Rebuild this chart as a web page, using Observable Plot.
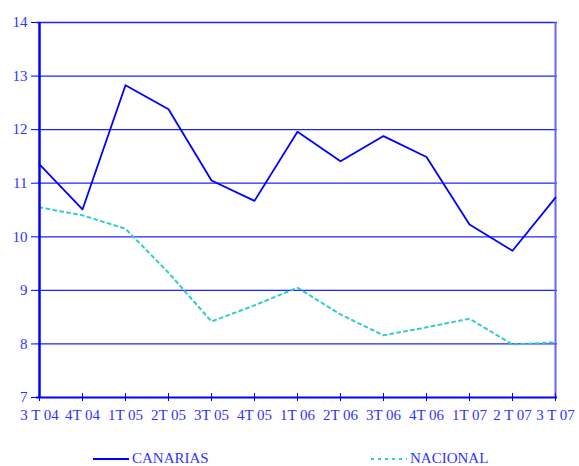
<!DOCTYPE html>
<html><head><meta charset="utf-8">
<script src="https://cdn.jsdelivr.net/npm/d3@7"></script>
<script src="https://cdn.jsdelivr.net/npm/@observablehq/plot@0.6"></script>
<style>
body{margin:0;background:#fff;}
#wrap{position:relative;width:579px;height:466px;font-family:"Liberation Serif","DejaVu Serif",serif;}
#legend{position:absolute;left:0;top:436px;width:579px;height:30px;}
</style></head>
<body><div id="wrap"><div id="chart"></div><svg id="legend" width="579" height="30"></svg></div>
<script>
const periods = ["3 T 04","4T 04","1T 05","2T 05","3T 05","4T 05","1T 06","2T 06","3T 06","4T 06","1T 07","2 T 07","3 T 07"];
const canarias = [11.35,10.51,12.83,12.38,11.05,10.67,11.96,11.41,11.88,11.49,10.23,9.74,10.73];
const nacional = [10.55,10.40,10.15,9.33,8.42,8.72,9.05,8.55,8.16,8.31,8.47,7.99,8.03];
const yTicks = [7,8,9,10,11,12,13,14];
const seriesNames = ["CANARIAS","NACIONAL"];

const rowsC = periods.map((p,i)=>({p, v:canarias[i]}));
const rowsN = periods.map((p,i)=>({p, v:nacional[i]}));
const txt = "#3333ff";

const chart = Plot.plot({
  width: 579, height: 436,
  marginTop: 22, marginLeft: 36, marginRight: 22, marginBottom: 39,
  style: {fontFamily: '"Liberation Serif","DejaVu Serif",serif', fontSize: "15px", color: txt, background: "#fff"},
  x: {type: "point", domain: periods, padding: 0},
  y: {domain: [7,14], ticks: yTicks},
  marks: [
    Plot.ruleY(yTicks.filter(t=>t>7), {y: d=>d, stroke: "#2222ff", strokeWidth: 1.3}),
    Plot.ruleX([periods[periods.length-1]], {x: d=>d, stroke: "#6666ff", strokeWidth: 2}),
    Plot.line(rowsN, {x:"p", y:"v", stroke:"#33cccc", strokeWidth:2, strokeDasharray:"3,4"}),
    Plot.line(rowsC, {x:"p", y:"v", stroke:"#0000ff", strokeWidth:1.8}),
    Plot.ruleX([periods[0]], {x: d=>d, stroke: "#0000ff", strokeWidth: 2.5}),
    Plot.ruleY([7], {y: d=>d, stroke: "#0000ff", strokeWidth: 2}),
    Plot.axisY({ticks: yTicks, tickFormat: d3.format("d"), tickSize: 5, tickPadding: 4, stroke: "#0000ff", fill: txt, label: null, fontSize: 15}),
    Plot.axisX({tickSize: 8, dy: -4, stroke: "#0000ff", tickFormat: () => "", label: null}),
    Plot.axisX({tickSize: 0, tickPadding: 12, fill: txt, label: null, fontSize: 15})
  ]
});
document.getElementById("chart").appendChild(chart);

const lg = d3.select("#legend");
const items = [
  {name: seriesNames[0], x: 93, stroke: "#0000ff", dash: null},
  {name: seriesNames[1], x: 371, stroke: "#33cccc", dash: "3,4"}
];
items.forEach(it=>{
  lg.append("line").attr("x1", it.x).attr("x2", it.x+36).attr("y1", 23).attr("y2", 23)
    .attr("stroke", it.stroke).attr("stroke-width", 2).attr("stroke-dasharray", it.dash);
  lg.append("text").attr("x", it.x+39).attr("y", 27).attr("fill", txt)
    .attr("font-family", '"Liberation Serif","DejaVu Serif",serif').attr("font-size", 15).text(it.name);
});
</script></body></html>
